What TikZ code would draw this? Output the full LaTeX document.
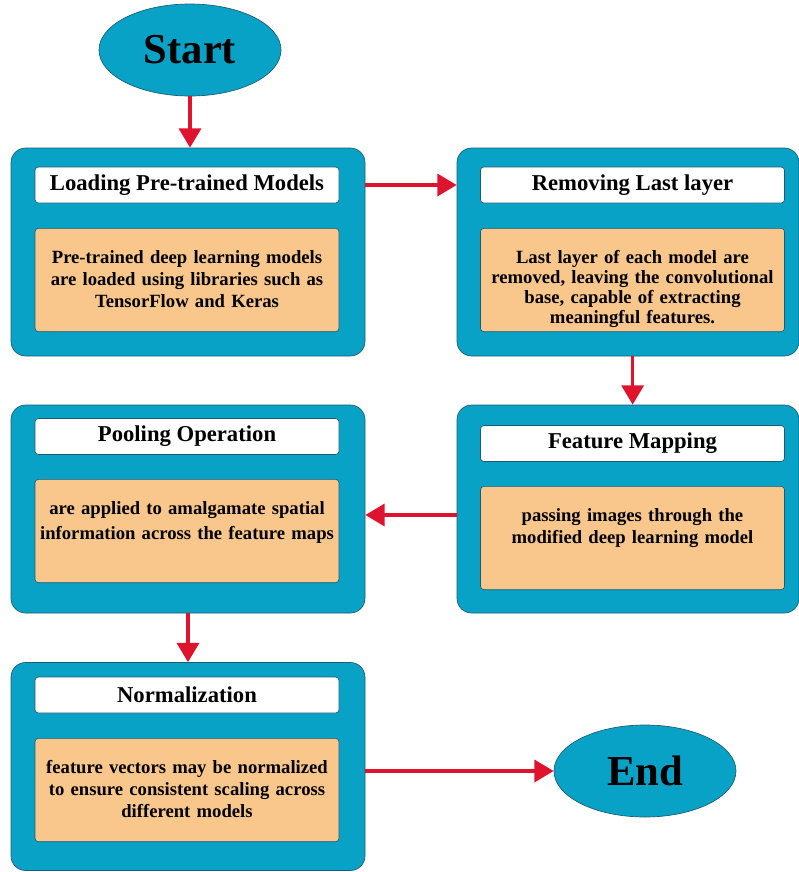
\documentclass[tikz,border=0pt]{standalone}
\usepackage{fontspec}
\setmainfont{Liberation Serif}
\usetikzlibrary{arrows.meta,shapes.geometric}

\definecolor{stageteal}{RGB}{8,162,199}
\definecolor{edgeteal}{RGB}{28,92,112}
\definecolor{bodyorange}{RGB}{249,199,140}
\definecolor{flowred}{RGB}{222,20,46}

\begin{document}
\begin{tikzpicture}[
    x=0.75pt, y=-0.75pt,
    stage/.style={draw=edgeteal, line width=0.5pt, fill=stageteal,
                  rounded corners=11pt, minimum height=156pt},
    stagetitle/.style={draw=edgeteal, line width=0.5pt, fill=white,
                  rounded corners=2.5pt, minimum width=228pt, minimum height=27pt,
                  inner sep=0pt, font=\fontsize{17}{20}\selectfont\bfseries},
    body/.style={draw=edgeteal, line width=0.5pt, fill=bodyorange,
                 rounded corners=2.5pt, anchor=north, text width=222pt,
                 align=center, inner xsep=3pt, inner ysep=5pt,
                 text height=21pt, text depth=46.5pt,
                 font=\fontsize{14}{16.5}\selectfont\bfseries},
    terminal/.style={ellipse, draw=edgeteal, line width=0.5pt, fill=stageteal,
                     minimum width=136.5pt, minimum height=69pt, inner sep=0pt,
                     font=\fontsize{32}{36}\selectfont\bfseries},
    flow/.style={-{Triangle[length=14.5pt, width=16.5pt]}, draw=flowred,
                 fill=flowred, line width=2.7pt},
]
    \useasboundingbox (0,0) rectangle (799,872);

    \node[terminal] (start) at (190, 50) {Start};

    \node[stage, minimum width=265.5pt] (load) at (188, 252) {};
    \node[stagetitle] (loadtitle) at (187, 185) {Loading Pre-trained Models};
    \node[body] (loadbody) at (187, 228)
        {Pre-trained deep learning models\\are loaded using libraries such as\\TensorFlow and Keras};

    \node[stage, minimum width=256.5pt] (remove) at (628, 252) {};
    \node[stagetitle] (removetitle) at (632.5, 185) {Removing Last layer};
    \node[body, font=\fontsize{14}{15}\selectfont\bfseries] (removebody) at (632.5, 228)
        {Last layer of each model are\\removed, leaving the convolutional\\base, capable of extracting\\meaningful features.};

    \node[stage, minimum width=265.5pt] (pool) at (188, 509) {};
    \node[stagetitle] (pooltitle) at (187, 436.5) {Pooling Operation};
    \node[body, font=\fontsize{14}{19}\selectfont\bfseries] (poolbody) at (187, 479)
        {are applied to amalgamate spatial\\information across the feature maps};

    \node[stage, minimum width=256.5pt] (feature) at (628, 509) {};
    \node[stagetitle] (featuretitle) at (632.5, 443.5) {Feature Mapping};
    \node[body] (featurebody) at (632.5, 486)
        {passing images through the\\modified deep learning model};

    \node[stage, minimum width=265.5pt] (norm) at (188, 766.5) {};
    \node[stagetitle] (normtitle) at (187, 695) {Normalization};
    \node[body] (normbody) at (187, 738)
        {feature vectors may be normalized\\to ensure consistent scaling across\\different models};

    \node[terminal] (stop) at (645, 771) {End};

    \draw[flow] (start.south) -- (start.south |- load.north);
    \draw[flow] (loadtitle -| load.east) -- (loadtitle -| remove.west);
    \draw[flow] ([xshift=3.5pt]remove.south) -- ([xshift=3.5pt]feature.north);
    \draw[flow] ([yshift=-4.5pt]feature.west) -- ([yshift=-4.5pt]pool.east);
    \draw[flow] (pool.south) -- (norm.north);
    \draw[flow] (stop.west -| norm.east) -- (stop.west);
\end{tikzpicture}
\end{document}
